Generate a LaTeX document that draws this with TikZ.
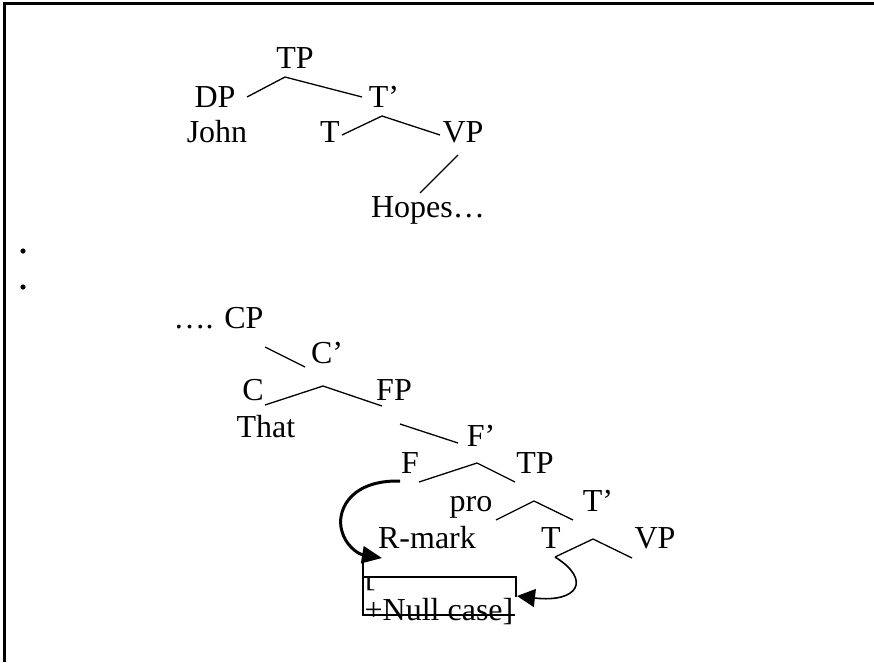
\documentclass[tikz,border=0pt]{standalone}
\usepackage{fontspec}
\setmainfont{Liberation Serif}
\usetikzlibrary{arrows.meta}
\begin{document}
\begin{tikzpicture}[x=1pt,y=-1pt,
  lbl/.style={font=\fontsize{32}{38}\selectfont, inner sep=0pt, anchor=base},
  branch/.style={line width=1.3pt},
  frame/.style={line width=3pt},
  boxline/.style={line width=1.5pt},
  thickarrow/.style={line width=3pt, -{Triangle[length=20pt,width=17pt]}},
  thinarrow/.style={line width=1.6pt, -{Triangle[length=18pt,width=18pt]}}]
\useasboundingbox (0,0) rectangle (874,662);
% frame
\coordinate (fbl) at (4.5,662);
\coordinate (ftl) at (4.5,3);
\coordinate (ftr) at (874,3);
\draw[frame] (fbl) -- (ftl) -- (ftr);
% bullets
\fill (23,251) circle (2.6);
\fill (23,287) circle (2.6);
% first tree
\node[lbl] (tpA) at (295,68) {TP};
\node[lbl] (dp) at (215,107) {DP};
\node[lbl] (tbarA) at (384,107) {T’};
\node[lbl] (john) at (217,142) {John};
\node[lbl] (tA) at (330,142) {T};
\node[lbl] (vpA) at (463,142) {VP};
\node[lbl] (hopes) at (428,217) {Hopes…};
\coordinate (a1) at (247,97); \coordinate (a2) at (285,77); \coordinate (a3) at (362,97);
\draw[branch] (a1) -- (a2) -- (a3);
\coordinate (b1) at (342,135); \coordinate (b2) at (382,116); \coordinate (b3) at (440,135);
\draw[branch] (b1) -- (b2) -- (b3);
\coordinate (c1) at (458,155); \coordinate (c2) at (420,193);
\draw[branch] (c1) -- (c2);
% second tree
\node[lbl] (cp) at (218.5,328) {…. CP};
\node[lbl] (cbar) at (327,363) {C’};
\node[lbl] (c) at (253,400) {C};
\node[lbl] (fp) at (394,400) {FP};
\node[lbl] (that) at (266,437) {That};
\node[lbl] (fbar) at (481,446) {F’};
\node[lbl] (f) at (410,473) {F};
\node[lbl] (tpB) at (535,473) {TP};
\node[lbl] (pro) at (471,511) {pro};
\node[lbl] (tbarB) at (598,511) {T’};
\node[lbl] (rmark) at (427,548) {R-mark};
\node[lbl] (tB) at (551,548) {T};
\node[lbl] (vpB) at (655,548) {VP};
\coordinate (d1) at (265,347); \coordinate (d2) at (305,367);
\draw[branch] (d1) -- (d2);
\coordinate (e1) at (265,405); \coordinate (e2) at (323,386); \coordinate (e3) at (382,406);
\draw[branch] (e1) -- (e2) -- (e3);
\coordinate (f1) at (400,424); \coordinate (f2) at (458,443);
\draw[branch] (f1) -- (f2);
\coordinate (g1) at (419,482); \coordinate (g2) at (477,463); \coordinate (g3) at (515,482);
\draw[branch] (g1) -- (g2) -- (g3);
\coordinate (h1) at (496,520); \coordinate (h2) at (534,501); \coordinate (h3) at (573,520);
\draw[branch] (h1) -- (h2) -- (h3);
\coordinate (i1) at (555,557); \coordinate (i2) at (593,539); \coordinate (i3) at (632,558);
\draw[branch] (i1) -- (i2) -- (i3);
% feature box
\coordinate (k1) at (516,597); \coordinate (k2) at (516,577); \coordinate (k3) at (363,577);
\coordinate (k4) at (363,556); \coordinate (k5) at (363,615); \coordinate (k6) at (515,615);
\draw[boxline] (k1) -- (k2) -- (k3);
\draw[boxline] (k4) -- (k5) -- (k6);
\begin{scope}
\clip (360,578) rectangle (520,600);
\node[lbl, anchor=base west] (lbr) at (365,586) {[};
\end{scope}
\node[lbl] (nullcase) at (439,620) {+Null case]};
% arrows
\coordinate (s1) at (400,481);
\coordinate (t1) at (382,558);
\draw[thickarrow] (s1) .. controls (352,480) and (338,508) .. (341,527)
  .. controls (344,545) and (358,554) .. (t1);
\coordinate (t2) at (517,596);
\draw[thinarrow] (i1) .. controls (592,580) and (578,603) .. (t2);
\end{tikzpicture}
\end{document}
